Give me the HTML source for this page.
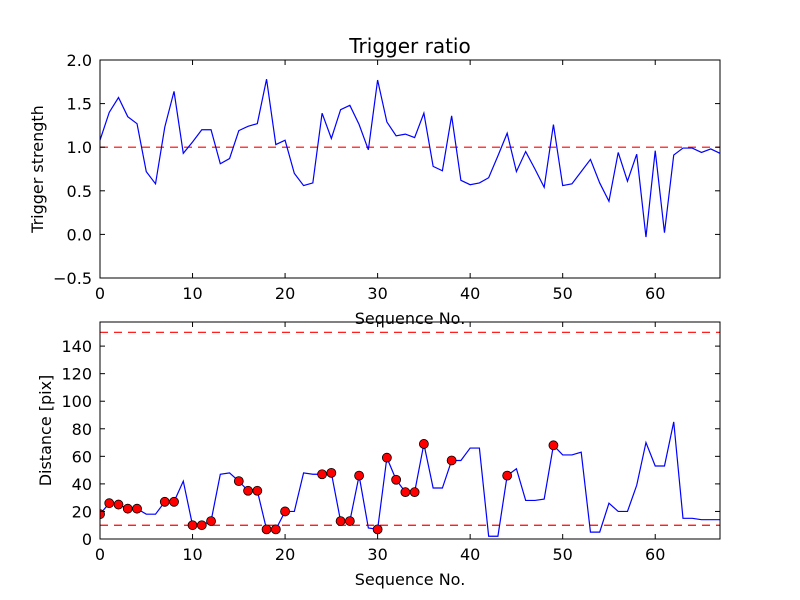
<!DOCTYPE html>
<html><head><meta charset="utf-8"><style>body{margin:0;background:#fff}svg{display:block}text{font-family:"DejaVu Sans","Liberation Sans",sans-serif;fill:#000}</style></head>
<body>
<svg id="c" width="800" height="600"></svg>
<script>
const ratio=[1.08,1.40,1.57,1.35,1.27,0.72,0.58,1.23,1.64,0.93,1.06,1.20,1.20,0.81,0.87,1.19,1.24,1.27,1.78,1.03,1.08,0.70,0.56,0.59,1.39,1.10,1.43,1.48,1.26,0.97,1.77,1.29,1.13,1.15,1.11,1.39,0.78,0.73,1.36,0.62,0.57,0.59,0.65,0.90,1.16,0.72,0.95,0.75,0.54,1.26,0.56,0.58,0.72,0.86,0.59,0.38,0.94,0.61,0.92,-0.03,0.96,0.02,0.91,0.99,0.99,0.94,0.98,0.93];
const distance=[18,26,25,22,22,18,18,27,27,42,10,10,13,47,48,42,35,35,7,7,20,20,48,47,47,48,13,13,46,8,7,59,43,34,34,69,37,37,57,57,66,66,2,2,46,51,28,28,29,68,61,61,63,5,5,26,20,20,39,70,53,53,85,15,15,14,14,14];
const flagged=[0,1,2,3,4,7,8,10,11,12,15,16,17,18,19,20,24,25,26,27,28,30,31,32,33,34,35,38,44,49];
const xTicks=[0,10,20,30,40,50,60];
const topTicks=[-0.5,0,0.5,1.0,1.5,2.0];
const botTicks=[0,20,40,60,80,100,120,140];
const ratioThreshold=[1.0];
const distThresholds=[10,150];

const svg=document.getElementById('c');const NS='http://www.w3.org/2000/svg';
function mk(t,a,p){const e=document.createElementNS(NS,t);for(const k in a)e.setAttribute(k,a[k]);(p||svg).appendChild(e);return e;}
function panel(y0,y1,ymin,ymax,name){
 const X0=100,X1=720;
 const g=mk('g',{});
 
 
 const sx=v=>X0+(v-0)/(67-0)*(X1-X0);
 const sy=v=>y1-(v-ymin)/(ymax-ymin)*(y1-y0);
 return {g,sx,sy,X0,X1,y0,y1};
}
function frame(P,yt,fmt,ylabel,xname,yname,ylx){
 const {g,sx,sy,X0,X1,y0,y1}=P;
 const r=mk('rect',{x:X0,y:y0,width:X1-X0,height:y1-y0,fill:'none',stroke:'#000','stroke-width':1},g);
 
 
 xTicks.forEach(v=>{const x=sx(v);
  mk('line',{x1:x,x2:x,y1:y1,y2:y1-5,stroke:'#000'},g);mk('line',{x1:x,x2:x,y1:y0,y2:y0+5,stroke:'#000'},g);
  const t=mk('text',{x:x,y:y1+21,'text-anchor':'middle','font-size':16},g);t.textContent=v;
  
  });
 yt.forEach(v=>{const y=sy(v);
  mk('line',{x1:X0,x2:X0+5,y1:y,y2:y,stroke:'#000'},g);mk('line',{x1:X1,x2:X1-5,y1:y,y2:y,stroke:'#000'},g);
  const t=mk('text',{x:X0-8,y:y+6,'text-anchor':'end','font-size':16},g);t.textContent=fmt(v).replace('-','\u2212');
  
  });
 const xl=mk('text',{x:(X0+X1)/2,y:y1+46,'text-anchor':'middle','font-size':16},g);xl.textContent='Sequence No.';
 
 
 const cy=(y0+y1)/2;
 const yl=mk('text',{x:0,y:0,'text-anchor':'middle','font-size':16,transform:`translate(${ylx},${cy}) rotate(-90)`},g);yl.textContent=ylabel;
 
 
}
// top
const T=panel(60,278,-0.5,2.0,'trigger-ratio-panel');
ratioThreshold.forEach(v=>{const l=mk('line',{x1:T.X0,x2:T.X1,y1:T.sy(v),y2:T.sy(v),stroke:'#f00','stroke-width':1.2,'stroke-dasharray':'8,6'},T.g);
 
 });
const tl=mk('polyline',{points:ratio.map((v,i)=>T.sx(i)+','+T.sy(v)).join(' '),fill:'none',stroke:'#00f','stroke-width':1.2},T.g);


frame(T,topTicks,v=>v.toFixed(1),'Trigger strength','top-x-axis-title','top-y-axis-title',43);
const title=mk('text',{x:410,y:53,'text-anchor':'middle','font-size':20});title.textContent='Trigger ratio';


// bottom
const B=panel(322,539,0,157.5,'distance-panel');
distThresholds.forEach(v=>{const l=mk('line',{x1:B.X0,x2:B.X1,y1:B.sy(v),y2:B.sy(v),stroke:'#f00','stroke-width':1.2,'stroke-dasharray':'8,6'},B.g);
 
 });
const bl=mk('polyline',{points:distance.map((v,i)=>B.sx(i)+','+B.sy(v)).join(' '),fill:'none',stroke:'#00f','stroke-width':1.2},B.g);


const cg=mk('g',{'clip-path':'url(#clipB)'},B.g);
const cp=mk('clipPath',{id:'clipB'});mk('rect',{x:B.X0,y:B.y0,width:B.X1-B.X0,height:B.y1-B.y0},cp);
flagged.forEach(i=>{const c=mk('circle',{cx:B.sx(i),cy:B.sy(distance[i]),r:4.5,fill:'#f00',stroke:'#000','stroke-width':0.8},cg);
 
 });
frame(B,botTicks,v=>String(v),'Distance [pix]','bottom-x-axis-title','bottom-y-axis-title',51);
</script>
</body></html>
